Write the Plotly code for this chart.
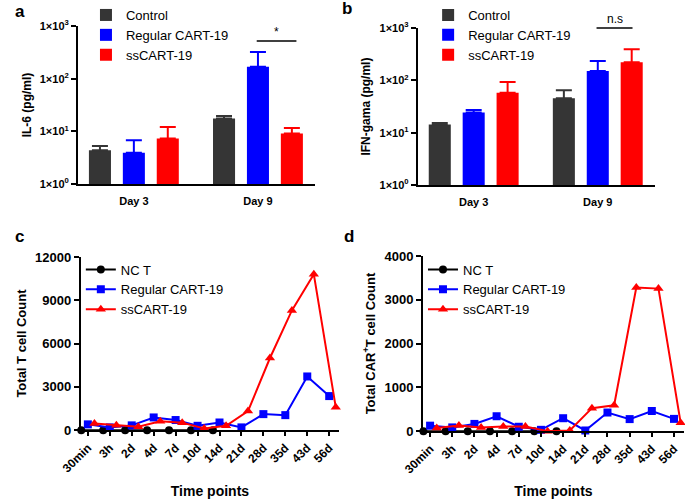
import plotly.graph_objects as go

# ---- data ----
days = ["Day 3", "Day 9"]
bar_groups = ["Control", "Regular CART-19", "ssCART-19"]
bar_colors = ["#353535", "#0000FF", "#FF0000"]

il6_mean = [[4.4, 17.5], [3.95, 168], [7.3, 9.1]]
il6_err = [[0.9, 2.2], [2.85, 152], [4.8, 2.5]]

ifn_mean = [[14.4, 45.6], [24.3, 151], [57.7, 222]]
ifn_err = [[1.0, 19.3], [3.0, 84], [35, 170]]

time_labels = ["30min", "3h", "2d", "4d", "7d", "10d", "14d", "21d", "28d", "35d", "43d", "56d"]
line_groups = ["NC T", "Regular CART-19", "ssCART-19"]

total_nct = [0, 0, 0, 0, 0, 0, 0, None, None, None, None, None]
total_reg = [400, 190, 330, 880, 700, 300, 530, 190, 1110, 1040, 3720, 2360]
total_ss = [460, 340, 230, 620, 520, 120, 300, 1320, 5000, 8300, 10800, 1580]

car_nct = [0, 0, 0, 0, 0, 0, 0, None, None, None, None, None]
car_reg = [125, 85, 165, 340, 100, 30, 295, 15, 425, 275, 460, 280]
car_ss = [70, 130, 85, 105, 105, 0, 15, 525, 590, 3280, 3255, 190]

FONT = "Liberation Sans, Arial, sans-serif"
fig = go.Figure()

# ---- bar panels a, b ----
for xa, ya, leg, means, errs in [("x", "y", "legend", il6_mean, il6_err),
                                  ("x2", "y2", "legend2", ifn_mean, ifn_err)]:
    for name, color, m, e in zip(bar_groups, bar_colors, means, errs):
        fig.add_trace(go.Bar(
            x=days, y=m, name=name, marker_color=color, marker_line_width=0,
            error_y=dict(type="data", array=e, arrayminus=[0] * len(e), symmetric=False,
                         color=color, thickness=2, width=8),
            xaxis=xa, yaxis=ya, legend=leg,
        ))

# ---- line panels c, d ----
offsets = [-0.3, 0.0, 0.3]
symbols = ["circle", "square", "triangle-up"]
line_colors = ["#000000", "#0000FF", "#FF0000"]
msize = [8, 8, 9]
for xa, ya, leg, series in [("x3", "y3", "legend3", [total_nct, total_reg, total_ss]),
                             ("x4", "y4", "legend4", [car_nct, car_reg, car_ss])]:
    for name, off, sym, col, ms, vals in zip(line_groups, offsets, symbols, line_colors, msize, series):
        fig.add_trace(go.Scatter(
            x=[i + off for i in range(len(time_labels))], y=vals, name=name,
            mode="lines+markers", line=dict(color=col, width=2),
            marker=dict(symbol=sym, size=ms, color=col),
            cliponaxis=False, xaxis=xa, yaxis=ya, legend=leg,
        ))

axis_common = dict(showline=True, linecolor="black", linewidth=2, showgrid=False, automargin=False,
                   zeroline=False, ticks="outside", ticklen=5, tickwidth=2, tickcolor="black",
                   tickfont=dict(family=FONT, size=11, color="black", weight="bold"))

log_ticks = dict(type="log", range=[0, 3], tickvals=[1, 10, 100, 1000],
                 ticktext=["1×10<sup>0</sup>", "1×10<sup>1</sup>", "1×10<sup>2</sup>", "1×10<sup>3</sup>"])

title_font = dict(family=FONT, size=12, color="black", weight="bold")
line_title_font = dict(family=FONT, size=13, color="black", weight="bold")
time_font = dict(family=FONT, size=14, color="black", weight="bold")

x_line = dict(range=[-0.32, 11.45], tickvals=list(range(len(time_labels))), ticktext=time_labels,
              tickangle=-45, ticklen=4, tickfont=dict(family=FONT, size=12, color="black", weight="bold"))
legend_common = dict(font=dict(family=FONT, size=13, color="black"), bgcolor="rgba(0,0,0,0)",
                     yanchor="top", xanchor="left", tracegroupgap=0, itemclick=False)

fig.update_layout(
    width=685, height=499, margin=dict(l=0, r=0, t=0, b=0, autoexpand=False),
    template="none",
    plot_bgcolor="white", paper_bgcolor="white",
    font=dict(family=FONT, color="black"),
    barmode="group", bargap=0.18, bargroupgap=0.35,
    xaxis=dict(axis_common, domain=[0.1139, 0.4599], anchor="y", ticks="", range=[-0.45, 1.46],
               ticklabelstandoff=6),
    yaxis=dict(axis_common, **log_ticks, domain=[0.631, 0.948], anchor="x",
               title=dict(text="IL-6 (pg/ml)", font=title_font, standoff=6)),
    xaxis2=dict(axis_common, domain=[0.610, 0.956], anchor="y2", ticks="", range=[-0.45, 1.46],
                ticklabelstandoff=6),
    yaxis2=dict(axis_common, **log_ticks, domain=[0.629, 0.944], anchor="x2",
                title=dict(text="IFN-gama (pg/ml)", font=title_font, standoff=6)),
    xaxis3=dict(axis_common, **x_line, domain=[0.118, 0.495], anchor="y3",
                title=dict(text="Time points", font=time_font, standoff=20)),
    yaxis3=dict(axis_common, domain=[0.138, 0.485], anchor="x3", range=[0, 12000],
                tickvals=[0, 3000, 6000, 9000, 12000], tickformat="d",
                tickfont=dict(family=FONT, size=13, color="black", weight="bold"),
                title=dict(text="Total T cell Count", font=line_title_font, standoff=6)),
    xaxis4=dict(axis_common, **x_line, domain=[0.6175, 0.9985], anchor="y4",
                title=dict(text="Time points", font=time_font, standoff=20)),
    yaxis4=dict(axis_common, domain=[0.136, 0.487], anchor="x4", range=[0, 4000],
                tickvals=[0, 1000, 2000, 3000, 4000], tickformat="d",
                tickfont=dict(family=FONT, size=13, color="black", weight="bold"),
                title=dict(text="Total CAR<sup>+</sup>T cell Count", font=line_title_font, standoff=6)),
    legend=dict(legend_common, x=0.1255, y=1.0),
    legend2=dict(legend_common, x=0.625, y=1.0),
    legend3=dict(legend_common, x=0.118, y=0.49),
    legend4=dict(legend_common, x=0.6175, y=0.49),
)

# significance marks
fig.add_shape(type="line", xref="x", yref="y domain", x0=0.99, x1=1.31, y0=0.905, y1=0.905,
              line=dict(color="black", width=1.5))
fig.add_annotation(text="*", xref="x", yref="y domain", x=1.15, y=0.905, yanchor="bottom",
                   showarrow=False, font=dict(family=FONT, size=12, color="black"))
fig.add_shape(type="line", xref="x2", yref="y2 domain", x0=0.99, x1=1.28, y0=1.0, y1=1.0,
              line=dict(color="black", width=1.5))
fig.add_annotation(text="n.s", xref="x2", yref="y2 domain", x=1.135, y=1.0, yanchor="bottom",
                   showarrow=False, font=dict(family=FONT, size=12, color="black"))

# panel letters
for letter, px, py in [("a", 0.029, 0.977), ("b", 0.506, 0.982), ("c", 0.029, 0.527), ("d", 0.51, 0.527)]:
    fig.add_annotation(text=letter, xref="paper", yref="paper", x=px, y=py, showarrow=False,
                       xanchor="center", yanchor="middle",
                       font=dict(family=FONT, size=17, color="black", weight="bold"))

# drop the default page margin so the 685x499 figure fits the window exactly
fig.write_html("out.html", post_script="document.body.style.margin='0';",
               config={"displayModeBar": False})
